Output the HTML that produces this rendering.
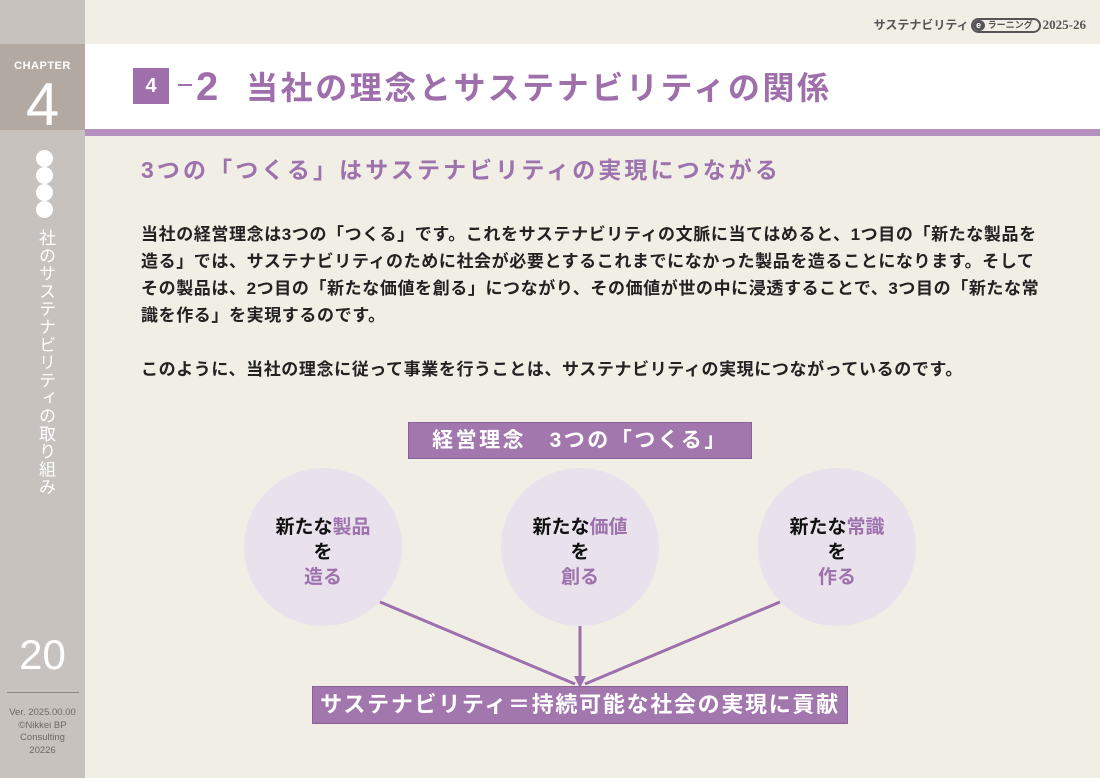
<!DOCTYPE html>
<html><head><meta charset="utf-8"><style>
*{margin:0;padding:0;box-sizing:border-box}
body{width:1100px;height:778px;background:#f1eee6;position:relative;overflow:hidden;font-family:"Liberation Sans","Noto Sans CJK JP",sans-serif}
.abs{position:absolute}
.side{left:0;top:0;width:85px;height:778px;background:#c8c2be}
.chap{left:0;top:44px;width:85px;height:86px;background:#b3a9a3}
.vt{left:33px;top:229px;writing-mode:vertical-rl;color:#fff;font-size:17px;line-height:24px;letter-spacing:0.8px}
.dot{left:36px;width:17px;height:17px;border-radius:50%;background:#fff}
.hdr{left:85px;top:44px;width:1015px;height:85px;background:#fff}
.bar{left:85px;top:129px;width:1015px;height:7px;background:#b58fbd}
.body{left:141px;top:221px;font-size:17px;font-weight:bold;line-height:27px;color:#222;letter-spacing:0.6px;white-space:nowrap}
.circ{width:158px;height:158px;border-radius:50%;background:#e9e1ec;text-align:center;font-size:19px;font-weight:bold;line-height:25px;padding-top:47px;color:#111}
.circ span{color:#9d72ad}
.box{background:#a277ae;color:#fff;font-weight:bold;text-align:center;border:1px solid #8c619b;white-space:nowrap}
</style></head><body>
<div class="abs side"></div>
<div class="abs chap"></div>
<div class="abs" style="left:0;top:60px;width:85px;text-align:center;color:#fff;font-size:11px;font-weight:bold;letter-spacing:0.5px">CHAPTER</div>
<div class="abs" style="left:0;top:74px;width:85px;text-align:center;color:#fff;font-size:60px;line-height:62px;font-weight:300">4</div>
<div class="abs dot" style="top:150px"></div>
<div class="abs dot" style="top:167px"></div>
<div class="abs dot" style="top:184px"></div>
<div class="abs dot" style="top:201px"></div>
<div class="abs vt">社のサステナビリティの取り組み</div>
<div class="abs" style="left:0;top:632px;width:85px;text-align:center;color:#fff;font-size:42px;line-height:46px">20</div>
<div class="abs" style="left:7px;top:692px;width:72px;height:1px;background:#8e8582"></div>
<div class="abs" style="left:0;top:707px;width:85px;text-align:center;color:#6f6764;font-size:9.5px;line-height:12.5px">Ver. 2025.00.00<br>©Nikkei BP<br>Consulting<br>20226</div>
<div class="abs" style="right:14px;top:16px;font-size:12px;color:#555;font-weight:bold;white-space:nowrap">サステナビリティ<span style="display:inline-block;border:2px solid #555;border-radius:8px;padding:0 6px 0 0;font-size:9px;line-height:11px;vertical-align:1px;margin:0 2px"><span style="display:inline-block;background:#555;color:#fff;border-radius:50%;width:12px;height:11px;text-align:center;margin-right:3px">e</span>ラーニング</span><span style="font-family:'Liberation Serif',serif;font-size:13px">2025-26</span></div>
<div class="abs hdr"></div>
<div class="abs bar"></div>
<div class="abs" style="left:133px;top:68px;width:36px;height:36px;background:#9f6fac;color:#fff;font-weight:bold;font-size:20px;text-align:center;line-height:36px">4</div>
<div class="abs" style="left:178px;top:84px;width:14px;height:2px;background:#9f6fac"></div>
<div class="abs" style="left:196px;top:64px;font-size:40px;font-weight:bold;color:#9f6fac;line-height:46px">2</div>
<div class="abs" style="left:246px;top:67px;font-size:32px;font-weight:bold;color:#9f6fac;line-height:42px;letter-spacing:2.6px;white-space:nowrap">当社の理念とサステナビリティの関係</div>
<div class="abs" style="left:141px;top:154px;font-size:23px;font-weight:bold;color:#9d72ad;line-height:32px;letter-spacing:3.1px;white-space:nowrap">3つの「つくる」はサステナビリティの実現につながる</div>
<div class="abs body">当社の経営理念は3つの「つくる」です。これをサステナビリティの文脈に当てはめると、1つ目の「新たな製品を<br>造る」では、サステナビリティのために社会が必要とするこれまでになかった製品を造ることになります。そして<br>その製品は、2つ目の「新たな価値を創る」につながり、その価値が世の中に浸透することで、3つ目の「新たな常<br>識を作る」を実現するのです。<br><br>このように、当社の理念に従って事業を行うことは、サステナビリティの実現につながっているのです。</div>
<div class="abs box" style="left:408px;top:422px;width:344px;height:37px;font-size:21px;line-height:35px;letter-spacing:2.5px">経営理念　3つの「つくる」</div>
<div class="abs circ" style="left:244px;top:468px">新たな<span>製品</span><br>を<br><span>造る</span></div>
<div class="abs circ" style="left:501px;top:468px">新たな<span>価値</span><br>を<br><span>創る</span></div>
<div class="abs circ" style="left:758px;top:468px">新たな<span>常識</span><br>を<br><span>作る</span></div>
<svg class="abs" style="left:0;top:0" width="1100" height="778">
<g stroke="#9d6fac" stroke-width="3" fill="none">
<line x1="380" y1="602" x2="575" y2="684"/>
<line x1="580" y1="626" x2="580" y2="684"/>
<line x1="780" y1="602" x2="585" y2="684"/>
</g>
<polygon points="574,676 586,676 580,688" fill="#9d6fac"/>
</svg>
<div class="abs box" style="left:312px;top:686px;width:536px;height:38px;font-size:22px;line-height:36px;letter-spacing:1.7px">サステナビリティ＝持続可能な社会の実現に貢献</div>
</body></html>
